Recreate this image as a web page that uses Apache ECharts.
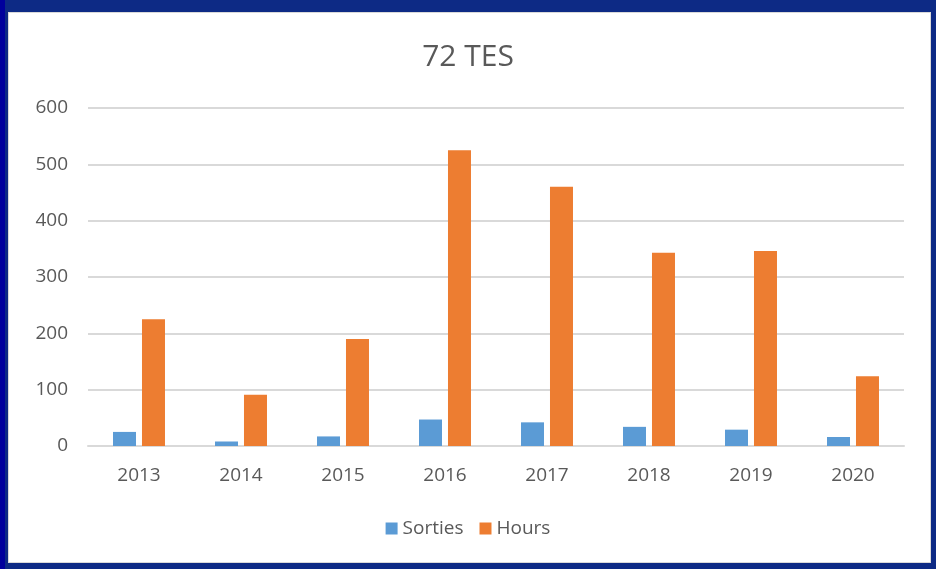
<!DOCTYPE html>
<html>
<head>
<meta charset="utf-8">
<script src="https://cdn.jsdelivr.net/npm/echarts@6/dist/echarts.min.js"></script>
<style>
  html, body { margin: 0; padding: 0; }
  body { width: 936px; height: 569px; background: #0d2a85; position: relative; overflow: hidden; }
  #left { position: absolute; left: 0; top: 0; width: 5px; height: 569px; background: #00009c; }
  #panel { position: absolute; left: 8px; top: 12px; width: 921px; height: 549px; background: #fff; border: 1px solid #d9d9d9; }
  #chart { position: absolute; left: 0; top: 0; width: 936px; height: 569px; }
</style>
</head>
<body>
<div id="left"></div>
<div id="panel"></div>
<div id="chart"></div>
<script>
// 72 TES 数据
const years = ['2013', '2014', '2015', '2016', '2017', '2018', '2019', '2020']
const sorties = [25, 8, 17, 47, 42, 34, 29, 16]
const hours = [225, 91, 190, 525, 460, 343, 346, 124]
const yTicks = { min: 0, max: 600, interval: 100 }

const font = '"Open Sans", sans-serif'
const chart = echarts.init(document.getElementById('chart'))
chart.setOption({
  animation: false,
  title: {
    text: '72 TES',
    left: 'center',
    top: 37,
    textStyle: { fontFamily: font, fontSize: 30, fontWeight: 'normal', color: '#595959' },
  },
  legend: {
    top: 514,
    left: 'center',
    itemWidth: 12,
    itemHeight: 12,
    itemGap: 16,
    icon: 'rect',
    textStyle: { fontFamily: font, fontSize: 19, color: '#595959' },
    data: ['Sorties', 'Hours'],
  },
  grid: { left: 88, right: 32, top: 108, bottom: 123 },
  xAxis: {
    type: 'category',
    data: years,
    axisLine: { lineStyle: { color: '#d9d9d9', width: 2 } },
    axisTick: { show: false },
    axisLabel: { fontFamily: font, fontSize: 19, color: '#595959', margin: 20 },
  },
  yAxis: {
    type: 'value',
    min: yTicks.min,
    max: yTicks.max,
    interval: yTicks.interval,
    axisLine: { show: false },
    axisTick: { show: false },
    splitLine: { lineStyle: { color: '#d9d9d9', width: 2 } },
    axisLabel: { fontFamily: font, fontSize: 19, color: '#595959', margin: 20 },
  },
  series: [
    {
      name: 'Sorties',
      type: 'bar',
      data: sorties,
      barWidth: 23,
      barGap: '26%',
      itemStyle: { color: '#5b9bd5' },
    },
    {
      name: 'Hours',
      type: 'bar',
      data: hours,
      barWidth: 23,
      itemStyle: { color: '#ed7d31' },
    },
  ],
})
</script>
</body>
</html>
